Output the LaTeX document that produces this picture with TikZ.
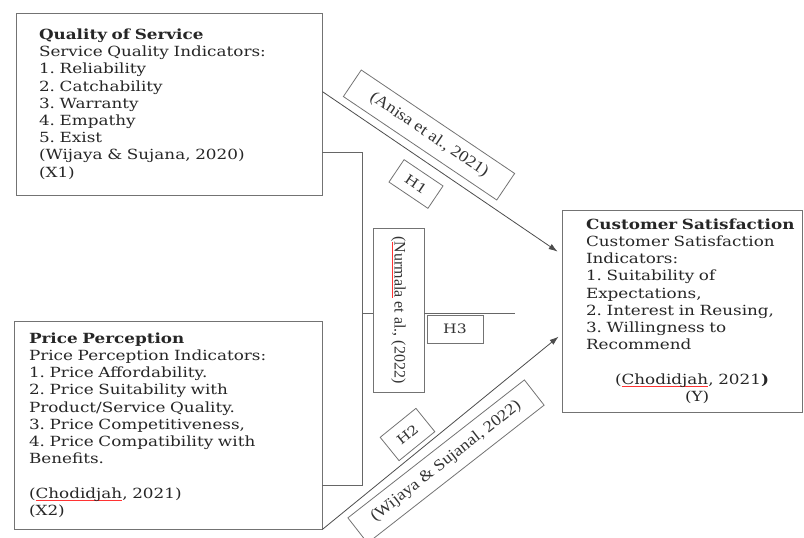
\documentclass[tikz,border=0pt]{standalone}
\usepackage{fontspec}
\setmainfont{DejaVu Serif}[FakeStretch=1.2]
\newfontfamily\citefont{Liberation Serif}
\newfontfamily\citewide{Liberation Serif}[FakeStretch=1.13]
\usepackage{graphicx}
\usetikzlibrary{arrows.meta}
\newsavebox\spellbox
\newcommand\spellerr[1]{\sbox\spellbox{#1}\rlap{\textcolor{red!80}{\rule[-3pt]{\wd\spellbox}{0.7pt}}}\usebox\spellbox}

\begin{document}
\frenchspacing
\begin{tikzpicture}[
    x=1pt, y=-1pt,
    box/.style={rectangle, draw=black!55, line width=0.8pt, align=left, text=black!85, font=\fontsize{14}{17.2}\selectfont},
    cite/.style={rectangle, draw=black!55, line width=0.8pt, text=black!80, font=\citefont\fontsize{16}{18}\selectfont, inner sep=2pt},
    widecite/.style={cite, font=\citewide\fontsize{16}{18}\selectfont},
    hyp/.style={rectangle, draw=black!55, line width=0.8pt, text=black!80, font=\fontsize{13}{15}\selectfont, inner sep=1pt},
    arrow/.style={-{Latex[length=9pt, width=6pt]}, draw=black!70, line width=0.8pt},
    link/.style={draw=black!60, line width=0.8pt}
    ]
    \useasboundingbox (0,0) rectangle (804,538);

    % Variables
    \node[box, minimum width=306pt, minimum height=182pt, text width=260pt, inner xsep=23pt] (qos) at (169,104) {\textbf{Quality of Service}\\
        Service Quality Indicators:\\
        1. Reliability\\
        2. Catchability\\
        3. Warranty\\
        4. Empathy\\
        5. Exist\\
        (Wijaya \& Sujana, 2020)\\
        (X1)};
    \node[box, minimum width=308pt, minimum height=208pt, text width=278pt, inner xsep=15pt] (price) at (168,425) {\textbf{Price Perception}\\
        Price Perception Indicators:\\
        1. Price Affordability.\\
        2. Price Suitability with\\
        Product/Service Quality.\\
        3. Price Competitiveness,\\
        4. Price Compatibility with\\
        Benefits.\\[\baselineskip]
        (\spellerr{Chodidjah}, 2021)\\
        (X2)};
    \node[box, minimum width=240pt, minimum height=202pt, text width=192pt, inner xsep=24pt] (cs) at (682,311) {\mbox{\textbf{Customer Satisfaction}}\\
        Customer Satisfaction\\
        Indicators:\\
        1. Suitability of\\
        Expectations,\\
        2. Interest in Reusing,\\
        3. Willingness to\\
        Recommend\\[\baselineskip]
        \hspace*{29pt}(\spellerr{Chodidjah}, 2021\textbf{)}\\
        \hspace*{99pt}(Y)};

    % References and hypotheses
    \node[cite, minimum width=51pt, minimum height=164pt] (nurmala) at (398.5,310) {\rotatebox{-90}{(\spellerr{Nurmala} et al., (2022)}};
    \node[widecite, rotate=-34, minimum width=185pt, minimum height=32pt] (anisa) at (429,135) {(Anisa et al., 2021)};
    \node[widecite, rotate=38, minimum width=224pt, minimum height=32pt] (wijaya) at (446,461.5) {(Wijaya \& Sujanal, 2022)};
    \node[hyp, rotate=-34, minimum width=47pt, minimum height=27pt] (h1) at (416,184) {H1};
    \node[hyp, rotate=39, minimum width=46pt, minimum height=30pt] (h2) at (407.5,434.5) {H2};
    \node[hyp, minimum width=56pt, minimum height=28pt] (h3) at (455,329) {H3};

    % Connectors
    \coordinate (brtop) at (362,152);
    \coordinate (brbot) at (362,485);
    \coordinate (h3end) at (515,313);
    \draw[link] (qos.east |- brtop) -- (brtop) -- (brbot) -- (price.east |- brbot);
    \draw[link] (brtop |- h3end) -- (nurmala.west |- h3end);
    \draw[link] (nurmala.east |- h3end) -- (h3end);
    \draw[arrow] ([yshift=-79pt]qos.north east) -- ([xshift=-4pt, yshift=-42pt]cs.north west);
    \draw[arrow] (price.south east) -- ([xshift=-3pt, yshift=-127pt]cs.north west);
\end{tikzpicture}
\end{document}
